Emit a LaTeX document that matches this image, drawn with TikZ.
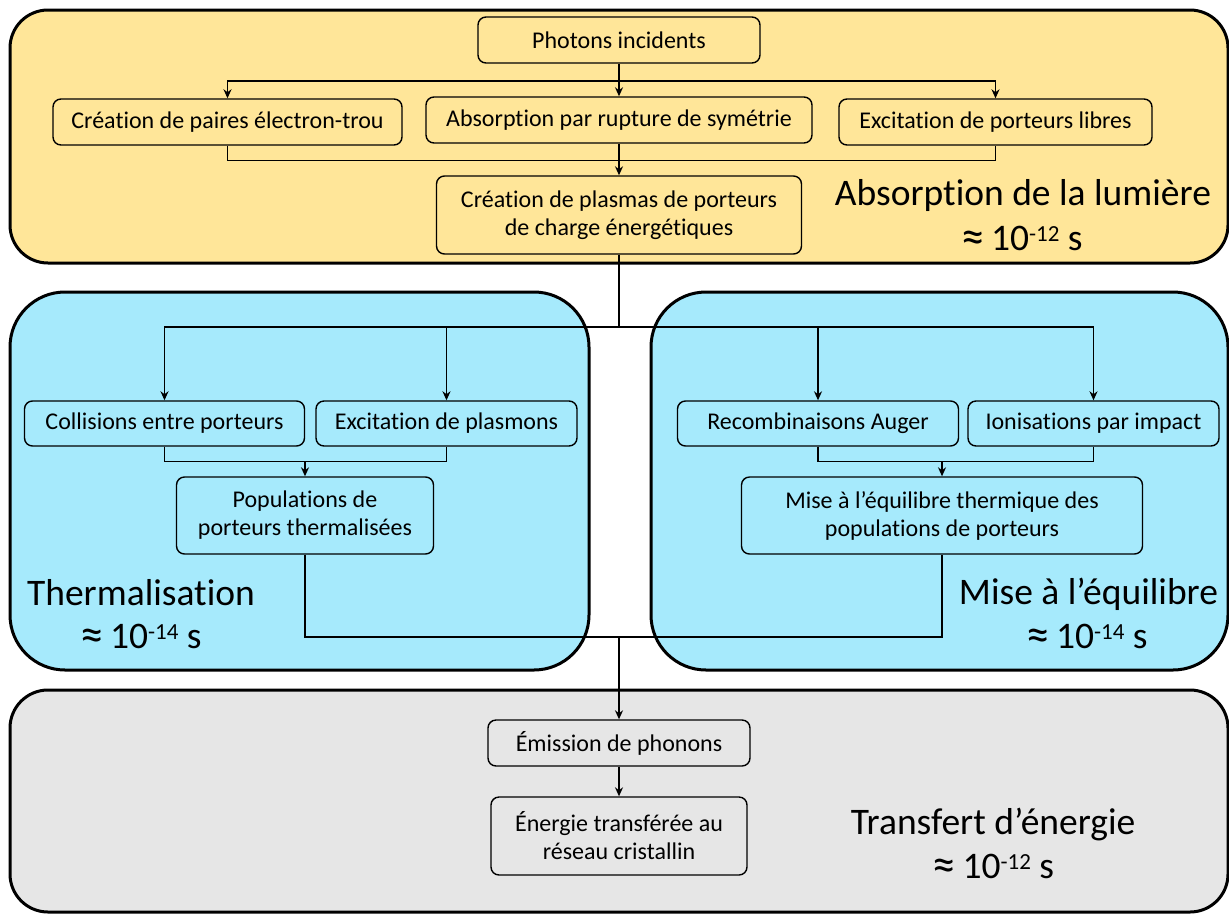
\documentclass[tikz,border=0pt]{standalone}
\usepackage{fontspec}
\setmainfont{Carlito}[Ligatures=NoCommon]
\usetikzlibrary{arrows.meta}
\definecolor{yel}{RGB}{255,230,153}
\definecolor{cyanbg}{RGB}{166,234,252}
\definecolor{grybg}{RGB}{230,230,230}
\newcommand{\expo}[1]{\raisebox{9pt}{\fontsize{23}{23}\selectfont #1}}
\newcommand{\approxsym}{{\fontsize{47}{47}\selectfont\raisebox{-2.5pt}{≈}}}
\begin{document}
\begin{tikzpicture}[x=1pt,y=-1pt,
  panel/.style={draw=black, line width=3pt},
  box/.style={draw=black, line width=1.4pt, rounded corners=8pt, align=center,
    inner sep=0pt, font=\fontsize{24}{28}\selectfont},
  conn/.style={line width=1.5pt},
  arr/.style={conn, -{Stealth[length=9pt,width=8pt]}},
  title/.style={font=\fontsize{37.5}{42}\selectfont, anchor=base, inner sep=0pt}
]
\useasboundingbox (0,0) rectangle (1229,914);

% panels
\draw[panel, fill=yel, rounded corners=38pt] (10,10) rectangle (1228,263);
\draw[panel, fill=cyanbg, rounded corners=55pt] (10,292) rectangle (589,670);
\draw[panel, fill=cyanbg, rounded corners=55pt] (651,292) rectangle (1228,670);
\draw[panel, fill=grybg, rounded corners=38pt] (10,690) rectangle (1228,912);

% nodes - absorption
\node[box, minimum width=282pt, minimum height=46pt] (photons) at (619,40) {Photons incidents};
\node[box, minimum width=349pt, minimum height=46pt] (paires) at (227.5,122) {Création de paires électron-trou};
\node[box, minimum width=386pt, minimum height=46pt] (absorp) at (619,120) {Absorption par rupture de symétrie};
\node[box, minimum width=313pt, minimum height=46pt] (libres) at (995.5,122) {Excitation de porteurs libres};
\node[box, minimum width=365pt, minimum height=78pt] (plasmas) at (619,215) {Création de plasmas de porteurs\\de charge énergétiques};

% thermalisation
\node[box, minimum width=280pt, minimum height=45pt] (collisions) at (164.5,423.5) {Collisions entre porteurs};
\node[box, minimum width=261pt, minimum height=45pt] (plasmons) at (446.5,423.5) {Excitation de plasmons};
\node[box, minimum width=257pt, minimum height=77pt] (popul) at (305,515.5) {Populations de\\porteurs thermalisées};

% equilibre
\node[box, minimum width=281pt, minimum height=45pt] (recomb) at (818,423.5) {Recombinaisons Auger};
\node[box, minimum width=251pt, minimum height=45pt] (ionis) at (1093.5,423.5) {Ionisations par impact};
\node[box, minimum width=401pt, minimum height=77pt] (mise) at (942,515.5) {Mise à l’équilibre thermique des\\populations de porteurs};

% transfert
\node[box, minimum width=262pt, minimum height=46pt] (emission) at (619,743) {Émission de phonons};
\node[box, minimum width=256pt, minimum height=78pt] (energie) at (619,836) {Énergie transférée au\\réseau cristallin};

% titles
\node[title] (t1) at (1023,205) {Absorption de la lumière};
\node[title] (t1b) at (1022,250) {\approxsym\,10\expo{-12} s};
\node[title] (t2) at (141,605) {Thermalisation};
\node[title] (t2b) at (141,648) {\approxsym\,10\expo{-14} s};
\node[title] (t3) at (1088.5,604) {Mise à l’équilibre};
\node[title] (t3b) at (1087,648) {\approxsym\,10\expo{-14} s};
\node[title] (t4) at (993,834) {Transfert d’énergie};
\node[title] (t4b) at (993.5,878) {\approxsym\,10\expo{-12} s};

% connectors - absorption
\coordinate (j1) at (619,81);
\draw[arr] (photons.south) -- (absorp.north);
\draw[arr] (j1) -| (paires.north);
\draw[arr] (j1) -| (libres.north);
\draw[conn] (paires.south) -- ++(0,15) -| (libres.south);
\draw[arr] (absorp.south) -- (plasmas.north);

% split
\coordinate (j2) at (619,327);
\draw[conn] (plasmas.south) -- (j2);
\draw[arr] (j2) -| (collisions.north);
\draw[arr] (j2) -| (plasmons.north);
\draw[arr] (j2) -| (recomb.north);
\draw[arr] (j2) -| (ionis.north);

% merges
\coordinate (m1) at (305,461);
\coordinate (m2) at (942,461);
\draw[conn] (collisions.south) -- ++(0,15) -| (plasmons.south);
\draw[arr] (m1) -- (popul.north);
\draw[conn] (recomb.south) -- ++(0,15) -| (ionis.south);
\draw[arr] (m2) -- (mise.north);

% join
\coordinate (j3) at (619,637);
\draw[conn] (popul.south) |- (j3) -| (mise.south);
\draw[arr] (j3) -- (emission.north);
\draw[arr] (emission.south) -- (energie.north);
\end{tikzpicture}
\end{document}
